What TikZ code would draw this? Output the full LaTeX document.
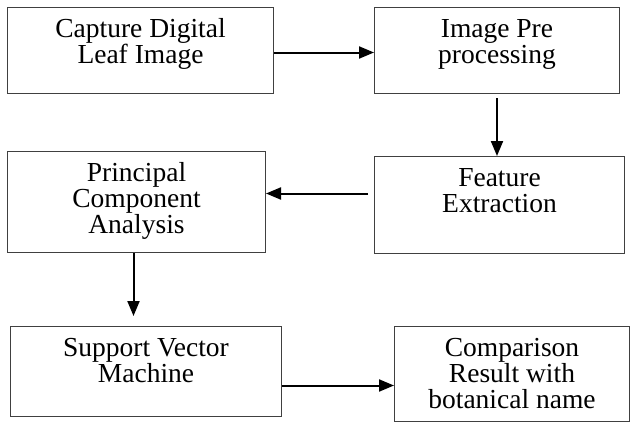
\documentclass[tikz,border=0pt]{standalone}
\usepackage{fontspec}
\setmainfont{Liberation Serif}
\usetikzlibrary{arrows.meta}
\tikzset{
  >={Triangle[length=15pt,width=12pt]},
  block/.style={draw=black!75, line width=1pt, inner sep=0pt, anchor=north west,
    font=\fontsize{27.5}{26}\selectfont},
  flow/.style={->, line width=2pt}
}
\newcommand{\blocktext}[3]{\parbox[t][#2pt][t]{#1pt}{\centering\rule{0pt}{30pt}#3}}
\begin{document}
\begin{tikzpicture}[x=1pt,y=-1pt]
   \useasboundingbox (0,0) rectangle (630,423);
   \node[block] (cap) at (7,7)     {\blocktext{266}{86}{Capture Digital\\Leaf Image}};
   \node[block] (pre) at (374,7)   {\blocktext{245}{86}{Image Pre\\processing}};
   \node[block] (pca) at (7,151)   {\blocktext{258}{101}{Principal\\Component\\Analysis}};
   \node[block] (fe)  at (374,156) {\blocktext{250}{97}{Feature\\Extraction}};
   \node[block] (svm) at (10,326)  {\blocktext{271}{90}{Support Vector\\Machine}};
   \node[block] (cmp) at (394,326) {\blocktext{235}{95}{Comparison\\Result with\\botanical name}};
   \coordinate (a1) at ([yshift=-2pt]cap.east);
   \coordinate (a2) at ([yshift=-4pt]pre.south);
   \coordinate (a3) at ([xshift=-6pt,yshift=11.5pt]fe.west);
   \coordinate (a4) at ([xshift=-3pt]pca.south);
   \coordinate (a5) at ([yshift=-14pt]svm.east);
   \draw[flow] (a1) -- (a1 -| pre.west);
   \draw[flow] (a2) -- (a2 |- fe.north);
   \draw[flow] (a3) -- (a3 -| pca.east);
   \draw[flow] (a4) -- ([yshift=10pt]a4 |- svm.north);
   \draw[flow] (a5) -- (a5 -| cmp.west);
\end{tikzpicture}
\end{document}
